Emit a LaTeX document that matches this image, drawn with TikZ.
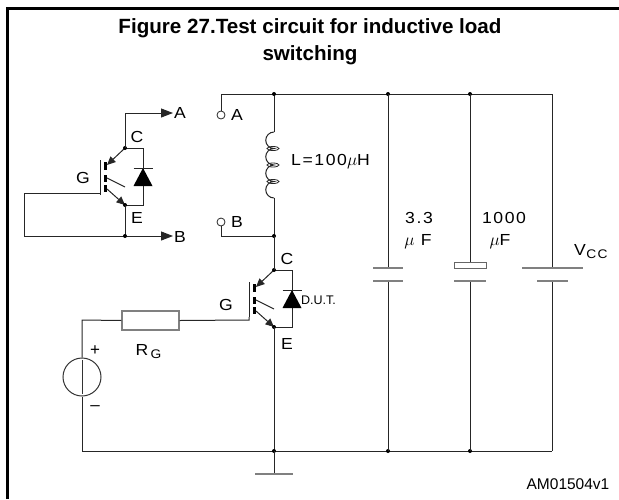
\documentclass[tikz,border=0pt]{standalone}
\usepackage{fontspec}
\setmainfont{Liberation Sans}
\newfontfamily\cad[FakeStretch=1.1,LetterSpace=10]{Liberation Sans}
\usetikzlibrary{arrows.meta}
\newcommand\myigbt[2]{%
\begin{scope}[shift={#1}]
  \coordinate (#2C) at (0,0);
  \coordinate (#2E) at (0,57);
  \coordinate (#2D1) at (18,0);
  \coordinate (#2D2) at (18,57);
  \coordinate (#2Ga) at (-25,12);
  \coordinate (#2Gb) at (-25,47);
  \fill[black] (-21.5,14) rectangle (-18,22);
  \fill[black] (-21.5,27) rectangle (-18,34);
  \fill[black] (-21.5,37) rectangle (-18,44);
  \draw[wire] (#2Ga) -- (#2Gb);
  \draw[wire,tarr] (#2C) -- (-18,17);
  \draw[wire] (-18,30) -- (0,39);
  \draw[wire,tarr] (-18,41) -- (#2E);
  \draw[wire] (#2C) -- (#2D1) -- (#2D2) -- (#2E);
  \fill[black] (18,20) -- (8.5,38) -- (27.5,38) -- cycle;
  \draw[wire] (8.5,20) -- (27.5,20);
  \node[dot] at (#2C) {};
  \node[dot] at (#2E) {};
\end{scope}}
\begin{document}
\begin{tikzpicture}[x=1pt,y=-1pt,
  wire/.style={line width=1pt, draw=black!85},
  part/.style={line width=1.2pt, draw=black!50},
  dot/.style={circle, fill=black, inner sep=0pt, minimum size=4pt},
  lbl/.style={font=\fontsize{16}{18}\cad, inner sep=0pt},
  sub/.style={font=\fontsize{12.5}{13}\cad, inner sep=0pt},
  tarr/.style={-{Triangle[length=8.5pt,width=7.5pt]}},
  barr/.style={-{Triangle[length=12pt,width=9pt]}},
  term/.style={circle, draw=black!85, line width=0.8pt, inner sep=0pt, minimum size=8pt, fill=white}]
\useasboundingbox (0,0) rectangle (619,499);
% frame
\draw[line width=2.2pt] (7.5,499) -- (7.5,8.5) -- (619,8.5);
% title
\node[font=\fontsize{20.6}{24}\selectfont\bfseries] (t1) at (310,28) {Figure 27.Test circuit for inductive load};
\node[font=\fontsize{20.6}{24}\selectfont\bfseries] (t2) at (310,55) {switching};

% ---------- upper (reference) IGBT ----------
\myigbt{(125,148)}{u}
\coordinate (uTop) at (125,113);
\coordinate (uA) at (173,113);
\coordinate (uBot) at (125,236);
\coordinate (uB) at (173,236);
\coordinate (uGr) at (100,193);
\coordinate (uGl) at (24,193);
\coordinate (uGc) at (24,236);
\draw[wire,barr] (uC) -- (uTop) -- (uA);
\draw[wire,barr] (uE) -- (uBot) -- (uB);
\draw[wire] (uGb) -- (uGr) -- (uGl) -- (uGc) -- (uBot);
\node[dot] at (uBot) {};
\node[lbl,anchor=west] (lA1) at (174,113) {A};
\node[lbl,anchor=west] (lB1) at (174,237) {B};
\node[lbl] (lC1) at (137,137) {C};
\node[lbl] (lG1) at (83,178) {G};
\node[lbl] (lE1) at (137,218) {E};

% ---------- main circuit ----------
\node[term] (tA) at (221,115) {};
\node[term] (tB) at (221,222) {};
\node[lbl] (lA2) at (237,115) {A};
\node[lbl] (lB2) at (237,222) {B};
\coordinate (tl) at (221,94);
\coordinate (n1) at (274,94);
\coordinate (n2) at (388,94);
\coordinate (n3) at (470,94);
\coordinate (tr) at (552,94);
\coordinate (Ltop) at (274,132);
\coordinate (Lbot) at (274,198);
\coordinate (nB) at (274,236);
\coordinate (bl) at (221,236);
\draw[wire] (tA.north) -- (tl) -- (tr);
\draw[wire] (n1) -- (Ltop);
\draw[wire] (Ltop)
  arc[start angle=-90, end angle=-270, radius=8.25]
  arc[start angle=-90, end angle=-270, radius=8.25]
  arc[start angle=-90, end angle=-270, radius=8.25]
  arc[start angle=-90, end angle=-270, radius=8.25];
\foreach \yy in {148.5,165,181.5}
  \draw[line width=0.8pt, draw=black!85] (273,\yy) ellipse[x radius=6, y radius=2];
\draw[wire] (Lbot) -- (nB);
\draw[wire] (tB.south) -- (bl) -- (nB);
\node[lbl,anchor=west] (lL) at (291,162) {L=100$\mu$H};
\node[dot] at (n1) {};
\node[dot] at (n2) {};
\node[dot] at (n3) {};
\node[dot] at (nB) {};

% ---------- DUT ----------
\myigbt{(274,270)}{d}
\draw[wire] (nB) -- (dC);
\node[lbl] (lC2) at (287,259) {C};
\node[lbl] (lG2) at (226,305) {G};
\node[lbl] (lE2) at (287,344) {E};
\node[lbl,anchor=west,font=\fontsize{12.5}{13}\selectfont] (lD) at (301,300) {D.U.T.};

% gate drive
\coordinate (g1) at (249,320);
\node[draw=black!50, line width=1.2pt, minimum width=57pt, minimum height=19pt, inner sep=0pt] (RG) at (150.5,320.5) {};
\coordinate (sTop) at (82,320);
\node[circle, draw=black!80, line width=1pt, minimum size=38pt, inner sep=0pt] (src) at (82,377) {};
\coordinate (sBot) at (82,451);
\draw[wire] (dGb) -- (g1) -- (RG.east);
\draw[wire] (RG.west) -- (sTop) -- (src.north);
\draw[wire, draw=black!80] (82,360) -- (82,394);
\node[lbl,font=\fontsize{17}{17}\selectfont] (lp) at (95,351) {+};
\node[lbl,font=\fontsize{17}{17}\selectfont] (lm) at (95,408) {\textendash};
\node[lbl] (lR) at (142,350) {R};
\node[sub] (lRs) at (156,354) {G};

% bottom rail
\coordinate (m1) at (274,451);
\coordinate (m2) at (388,451);
\coordinate (m3) at (470,451);
\coordinate (br) at (552,451);
\draw[wire] (src.south) -- (sBot) -- (br);
\draw[wire] (dE) -- (m1);
\node[dot] at (m1) {};
\node[dot] at (m2) {};
\node[dot] at (m3) {};
% ground
\coordinate (gnd) at (274,474);
\draw[wire] (m1) -- (gnd);
\draw[part] (255,474) -- (293,474);

% 3.3uF
\coordinate (c1a) at (388,268);
\coordinate (c1b) at (388,281);
\draw[wire] (n2) -- (c1a);
\draw[wire] (c1b) -- (m2);
\draw[part] (373,268) -- (403,268);
\draw[part] (373,281) -- (403,281);
\node[lbl] (l33) at (419,218) {3.3};
\node[lbl] (l33u) at (418,242) {$\mu$ F};

% 1000uF
\coordinate (c2a) at (470,262);
\coordinate (c2b) at (470,281);
\draw[wire] (n3) -- (c2a);
\draw[wire] (c2b) -- (m3);
\draw[line width=0.9pt, draw=black!60] (454,262) rectangle (486,268);
\draw[part] (454,281) -- (486,281);
\node[lbl] (l1000) at (504,218) {1000};
\node[lbl] (l1000u) at (500,242) {$\mu$F};

% Vcc
\coordinate (va) at (552,268);
\coordinate (vb) at (552,281);
\draw[wire] (tr) -- (va);
\draw[wire] (vb) -- (br);
\draw[part] (522,268) -- (583,268);
\draw[part] (537,281) -- (568,281);
\node[lbl] (lV) at (580,250) {V};
\node[sub] (lVs) at (597,254) {CC};

\node[font=\fontsize{15.5}{16}\selectfont] (id) at (568,484) {AM01504v1};
\end{tikzpicture}
\end{document}
